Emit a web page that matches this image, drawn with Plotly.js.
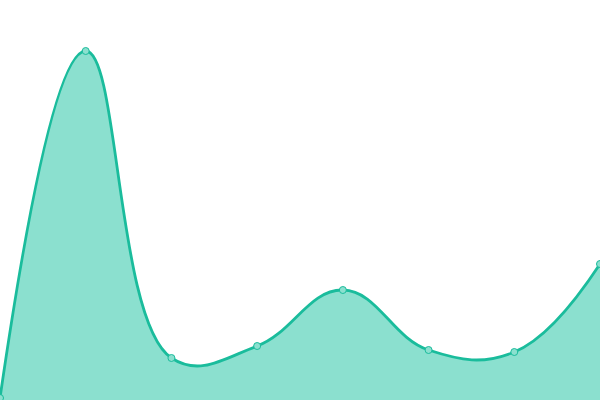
<!DOCTYPE html>
<html>
<head>
<meta charset="utf-8">
<script src="https://cdn.plot.ly/plotly-3.0.1.min.js"></script>
<style>html,body{margin:0;padding:0;background:#fff;}#chart{width:600px;height:400px;}</style>
</head>
<body>
<div id="chart"></div>
<script>
const categories = [0, 1, 2, 3, 4, 5, 6, 7];
const values = [2, 349, 42, 54, 110, 50, 48, 136];

Plotly.newPlot('chart', [{
  x: categories,
  y: values,
  type: 'scatter',
  mode: 'lines+markers',
  fill: 'tozeroy',
  fillcolor: '#8be0cf',
  line: {color: '#1abc9c', width: 2.8, shape: 'spline', smoothing: 1.2},
  marker: {size: 7, color: '#8be0cf', line: {color: '#1abc9c', width: 1}},
  cliponaxis: false,
  hoverinfo: 'none'
}], {
  width: 600, height: 400,
  margin: {l: 0, r: 0, t: 0, b: 0, pad: 0},
  paper_bgcolor: '#fff', plot_bgcolor: '#fff',
  showlegend: false,
  xaxis: {range: [0, 7], visible: false, fixedrange: true},
  yaxis: {range: [0, 400], visible: false, fixedrange: true}
}, {displayModeBar: false, staticPlot: true});
</script>
</body>
</html>
